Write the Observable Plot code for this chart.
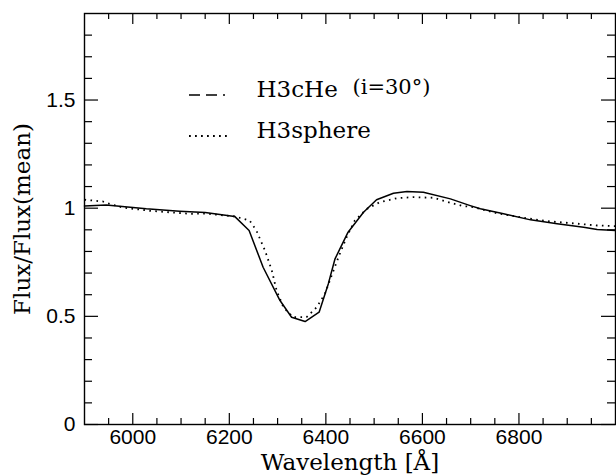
<!DOCTYPE html>
<html>
<head>
<meta charset="utf-8">
<script src="https://cdn.jsdelivr.net/npm/d3@7"></script>
<script src="https://cdn.jsdelivr.net/npm/@observablehq/plot@0.6"></script>
<style>
  html, body { margin: 0; padding: 0; background: white; }
  #chart { position: relative; width: 616px; height: 476px; }
</style>
</head>
<body>
<div id="chart"></div>
<script>
// H3cHe (i=30°) model — solid curve
const wavelengthH3cHe = [5900, 5945, 6028, 6097, 6150, 6211, 6241, 6270, 6305, 6329, 6357, 6386, 6405, 6419, 6446, 6478, 6505, 6540, 6568, 6602, 6658, 6699, 6720, 6768, 6824, 6879, 6934, 6962, 7000];
const fluxH3cHe       = [1.010, 1.015, 0.997, 0.986, 0.980, 0.962, 0.897, 0.727, 0.573, 0.496, 0.476, 0.519, 0.650, 0.766, 0.889, 0.981, 1.039, 1.069, 1.077, 1.074, 1.043, 1.012, 0.997, 0.974, 0.946, 0.928, 0.912, 0.901, 0.897];

// H3sphere model — dotted curve
const wavelengthH3sphere = [5900, 5938, 5952, 5980, 6035, 6118, 6150, 6211, 6242, 6256, 6274, 6288, 6298, 6312, 6332, 6360, 6381, 6398, 6412, 6426, 6443, 6460, 6485, 6512, 6547, 6581, 6623, 6658, 6685, 6699, 6754, 6810, 6858, 6907, 6962, 7000];
const fluxH3sphere       = [1.039, 1.031, 1.020, 1.003, 0.988, 0.974, 0.975, 0.962, 0.943, 0.897, 0.804, 0.712, 0.619, 0.542, 0.496, 0.496, 0.542, 0.604, 0.689, 0.773, 0.866, 0.943, 0.997, 1.028, 1.046, 1.051, 1.048, 1.025, 1.009, 1.008, 0.977, 0.956, 0.940, 0.931, 0.920, 0.917];

// Axis ticks and labels
const xMajorTicks = [6000, 6200, 6400, 6600, 6800];
const xMinorTicks = [5950, 6050, 6100, 6150, 6250, 6300, 6350, 6450, 6500, 6550, 6650, 6700, 6750, 6850, 6900, 6950];
const xTickLabels = ["6000", "6200", "6400", "6600", "6800"];
const yMajorTicks = [0, 0.5, 1, 1.5];
const yMinorTicks = [0.1, 0.2, 0.3, 0.4, 0.6, 0.7, 0.8, 0.9, 1.1, 1.2, 1.3, 1.4, 1.6, 1.7, 1.8];
const yTickLabels = ["0", "0.5", "1", "1.5"];

const xTitle = "Wavelength [Å]";
const yTitle = "Flux/Flux(mean)";
const legendNames = ["H3cHe", "H3sphere"];
const legendNote = "(i=30°)";

const solidData = wavelengthH3cHe.map((w, i) => ({w, f: fluxH3cHe[i]}));
const dottedData = wavelengthH3sphere.map((w, i) => ({w, f: fluxH3sphere[i]}));

const W = 616, H = 476;
const mL = 84, mR = 1, mT = 13, mB = 52;
const innerW = W - mL - mR, innerH = H - mT - mB;
const xMajorLen = 11, xMinorLen = 6, yMajorLen = 14, yMinorLen = 8;
const serifFont = "'DejaVu Serif', 'Liberation Serif', serif";
const numFont = "'Liberation Sans', Arial, sans-serif";

const chart = Plot.plot({
  width: W, height: H,
  marginLeft: mL, marginRight: mR, marginTop: mT, marginBottom: mB,
  x: {domain: [5900, 7000]},
  y: {domain: [0, 1.9]},
  style: {background: "white", color: "black", overflow: "visible"},
  marks: [
    // inward ticks: bottom & top
    Plot.tickX(xMajorTicks, {x: d => d, insetTop: innerH - xMajorLen, stroke: "black", strokeWidth: 1.2}),
    Plot.tickX(xMinorTicks, {x: d => d, insetTop: innerH - xMinorLen, stroke: "black", strokeWidth: 1.2}),
    Plot.tickX(xMajorTicks, {x: d => d, insetBottom: innerH - xMajorLen, stroke: "black", strokeWidth: 1.2}),
    Plot.tickX(xMinorTicks, {x: d => d, insetBottom: innerH - xMinorLen, stroke: "black", strokeWidth: 1.2}),
    // inward ticks: left & right
    Plot.tickY(yMajorTicks, {y: d => d, insetRight: innerW - yMajorLen, stroke: "black", strokeWidth: 1.2}),
    Plot.tickY(yMinorTicks, {y: d => d, insetRight: innerW - yMinorLen, stroke: "black", strokeWidth: 1.2}),
    Plot.tickY(yMajorTicks, {y: d => d, insetLeft: innerW - yMajorLen, stroke: "black", strokeWidth: 1.2}),
    Plot.tickY(yMinorTicks, {y: d => d, insetLeft: innerW - yMinorLen, stroke: "black", strokeWidth: 1.2}),
    Plot.frame({stroke: "black", strokeWidth: 1.4}),
    // tick labels
    Plot.axisX(xMajorTicks, {tickSize: 0, tickPadding: 5, tickFormat: (d, i) => xTickLabels[i], fontSize: 21, fontFamily: numFont, label: null}),
    Plot.axisY(yMajorTicks, {tickSize: 0, tickPadding: 9, tickFormat: (d, i) => yTickLabels[i], fontSize: 21, fontFamily: numFont, label: null}),
    // axis titles
    Plot.text([xTitle], {frameAnchor: "bottom", textAnchor: "middle", dy: 45, lineAnchor: "bottom", fontFamily: serifFont, fontSize: 23, fill: "black"}),
    Plot.text([yTitle], {frameAnchor: "left", textAnchor: "middle", dx: -62, rotate: -90, lineAnchor: "middle", fontFamily: serifFont, fontSize: 23, fill: "black"}),
    // curves
    Plot.line(dottedData, {x: "w", y: "f", stroke: "black", strokeWidth: 1.8, strokeDasharray: "1.6,4.4", strokeLinecap: "butt", curve: "linear"}),
    Plot.line(solidData, {x: "w", y: "f", stroke: "black", strokeWidth: 1.5, curve: "linear"}),
    // legend labels
    Plot.text([legendNames[0]], {frameAnchor: "top-left", dx: 172, dy: 83, lineAnchor: "bottom", textAnchor: "start", fontFamily: serifFont, fontSize: 23, fill: "black"}),
    Plot.text([legendNote], {frameAnchor: "top-left", dx: 268, dy: 80, lineAnchor: "bottom", textAnchor: "start", fontFamily: serifFont, fontSize: 21, fill: "black"}),
    Plot.text([legendNames[1]], {frameAnchor: "top-left", dx: 172, dy: 124, lineAnchor: "bottom", textAnchor: "start", fontFamily: serifFont, fontSize: 23, fill: "black"})
  ]
});

// legend line samples
const svg = d3.select(chart);
svg.append("line").attr("x1", 189).attr("x2", 228).attr("y1", 95).attr("y2", 95)
  .attr("stroke", "black").attr("stroke-width", 1.5).attr("stroke-dasharray", "11,6,11,6,2,100");
svg.append("line").attr("x1", 189).attr("x2", 228).attr("y1", 136).attr("y2", 136)
  .attr("stroke", "black").attr("stroke-width", 1.8).attr("stroke-dasharray", "1.8,4.2");

document.getElementById("chart").appendChild(chart);
</script>
</body>
</html>
